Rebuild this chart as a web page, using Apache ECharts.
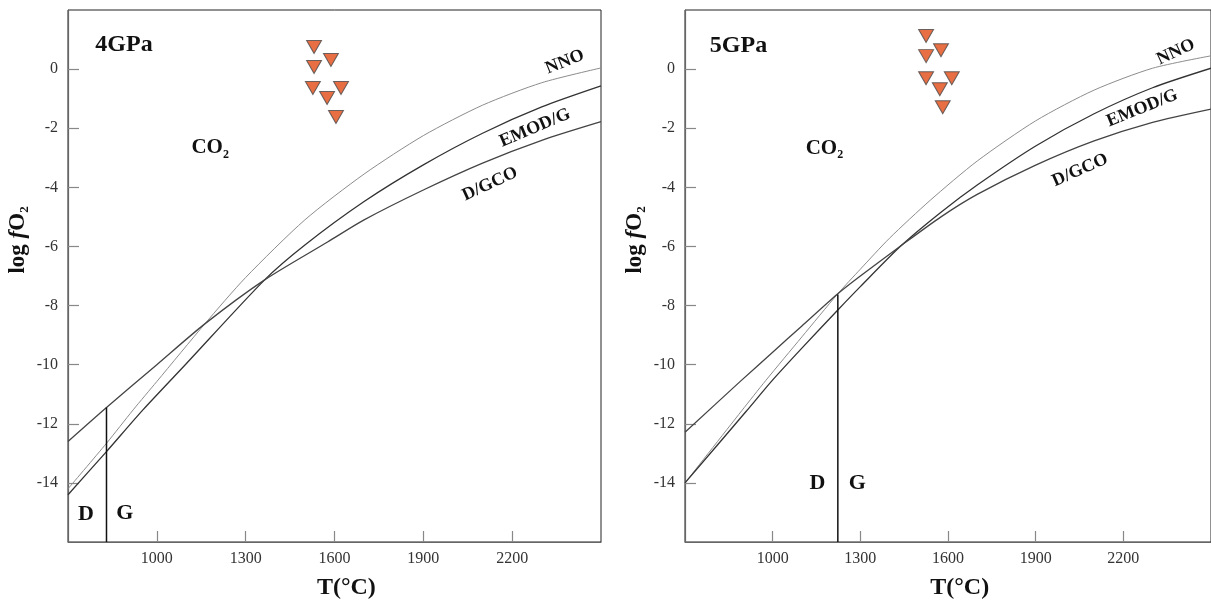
<!DOCTYPE html>
<html><head><meta charset="utf-8">
<script src="https://cdn.jsdelivr.net/npm/echarts@6/dist/echarts.min.js"></script>
<style>html,body{margin:0;padding:0;background:#fff}#c{width:1211px;height:601px}</style>
</head><body><div id="c"></div>
<script>
// ---------- data (T in °C, log fO2) ----------
const PANELS = ['4GPa', '5GPa'];
const NNO_4 = [[700,-14.2],[830,-12.66],[920,-11.53],[1000,-10.57],[1162,-8.62],[1300,-7.05],[1500,-5.1],[1700,-3.55],[1900,-2.25],[2100,-1.22],[2300,-0.46],[2500,0.04]];
const EMOD_4 = [[700,-14.4],[830,-12.94],[953,-11.53],[1100,-9.96],[1364,-7.13],[1500,-5.95],[1700,-4.48],[1900,-3.24],[2100,-2.17],[2300,-1.28],[2500,-0.57]];
const DGCO_4 = [[700,-12.6],[830,-11.45],[1000,-10.0],[1162,-8.62],[1364,-7.13],[1578,-5.84],[1700,-5.1],[1900,-4.09],[2100,-3.18],[2300,-2.41],[2500,-1.78]];
const DG_4 = [[830,-16],[830,-11.45]];
const SAMPLES_4 = [[1531,0.75],[1588,0.31],[1531,0.07],[1527,-0.64],[1622,-0.64],[1575,-0.98],[1605,-1.62]];

const NNO_5 = [[700,-14.0],[894,-11.56],[976,-10.54],[1100,-9.06],[1223,-7.6],[1300,-6.77],[1400,-5.72],[1539,-4.44],[1700,-3.11],[1900,-1.75],[2100,-0.71],[2300,0.03],[2500,0.45]];
const EMOD_5 = [[700,-14.0],[911,-11.56],[998,-10.54],[1100,-9.44],[1223,-8.15],[1300,-7.36],[1440,-5.97],[1576,-4.84],[1700,-3.92],[1900,-2.6],[2100,-1.51],[2300,-0.63],[2500,0.03]];
const DGCO_5 = [[700,-12.29],[892,-10.54],[1000,-9.58],[1100,-8.69],[1223,-7.6],[1300,-7.0],[1440,-5.97],[1576,-5.0],[1700,-4.24],[1900,-3.25],[2100,-2.43],[2300,-1.8],[2500,-1.35]];
const DG_5 = [[1223,-16],[1223,-7.63]];
const SAMPLES_5 = [[1525,1.12],[1576,0.64],[1525,0.44],[1525,-0.31],[1613,-0.31],[1572,-0.68],[1582,-1.29]];

const X_RANGE = [700, 2500];
const Y_RANGE = [-16, 2];

// ---------- styling / layout ----------
const SERIF = 'Liberation Serif, Times New Roman, serif';
const GRIDS = [
  {left: 68, top: 10, width: 533, height: 532},
  {left: 685, top: 10, width: 532, height: 532}
];

function xAx(gi){
  return {type:'value', gridIndex:gi, min:X_RANGE[0], max:X_RANGE[1], interval:300,
    axisLine:{onZero:false, lineStyle:{color:'#666', width:1.2}},
    axisTick:{inside:true, length:11, lineStyle:{color:'#888', width:1.2}},
    axisLabel:{showMinLabel:false, showMaxLabel:false, color:'#333', fontFamily:SERIF, fontSize:16, margin:9,
      formatter: v => String(v)},
    splitLine:{show:false}};
}
function yAx(gi){
  return {type:'value', gridIndex:gi, min:Y_RANGE[0], max:Y_RANGE[1], interval:2,
    axisLine:{onZero:false, lineStyle:{color:'#666', width:1.2}},
    axisTick:{inside:true, length:11, lineStyle:{color:'#888', width:1.2}},
    axisLabel:{showMinLabel:false, showMaxLabel:false, color:'#333', fontFamily:SERIF, fontSize:16, margin:10,
      formatter: v => String(v)},
    splitLine:{show:false}};
}
function curve(gi, data, color, width){
  return {type:'line', xAxisIndex:gi, yAxisIndex:gi, data:data, showSymbol:false, smooth:0.25,
    silent:true, lineStyle:{color:color, width:width}};
}
function pts(gi, data){
  return {type:'scatter', xAxisIndex:gi, yAxisIndex:gi, data:data, symbol:'triangle', symbolRotate:180,
    symbolSize:[15,13], silent:true, itemStyle:{color:'#E24A14', borderColor:'#4a4a4a', borderWidth:1}};
}

const sets = [
  {nno:NNO_4, emod:EMOD_4, dgco:DGCO_4, dg:DG_4, s:SAMPLES_4},
  {nno:NNO_5, emod:EMOD_5, dgco:DGCO_5, dg:DG_5, s:SAMPLES_5}
];
const series = [];
sets.forEach((d, gi) => {
  series.push(curve(gi, d.nno, '#8c8c8c', 1));
  series.push(curve(gi, d.emod, '#333', 1.3));
  series.push(curve(gi, d.dgco, '#444', 1.3));
  series.push({type:'line', xAxisIndex:gi, yAxisIndex:gi, data:d.dg, showSymbol:false, silent:true,
    lineStyle:{color:'#111', width:1.5}});
  series.push(pts(gi, d.s));
});

const chart = echarts.init(document.getElementById('c'), null, {renderer:'canvas'});
chart.setOption({
  animation:false,
  backgroundColor:'#fff',
  grid: GRIDS.map(g => Object.assign({show:true, borderColor:'#222', borderWidth:1}, g)),
  xAxis:[xAx(0), xAx(1)],
  yAxis:[yAx(0), yAx(1)],
  series: series
});

// ---------- annotations (anchored in data coordinates) ----------
const ANN = [
  [{t:'{b|4GPa}', T:889, v:0.82, r:0, fs:24},
   {t:'{b|CO}{s|2}', T:1180, v:-2.67, r:0, fs:21},
   {t:'{b|NNO}', T:2378, v:0.24, r:22, fs:18},
   {t:'{b|EMOD/G}', T:2277, v:-1.99, r:23, fs:18},
   {t:'{b|D/GCO}', T:2125, v:-3.89, r:25, fs:18},
   {t:'{b|D}', T:761, v:-15.08, r:0, fs:22},
   {t:'{b|G}', T:892, v:-15.02, r:0, fs:22}],
  [{t:'{b|5GPa}', T:883, v:0.78, r:0, fs:24},
   {t:'{b|CO}{s|2}', T:1177, v:-2.69, r:0, fs:21},
   {t:'{b|NNO}', T:2380, v:0.58, r:25, fs:18},
   {t:'{b|EMOD/G}', T:2265, v:-1.32, r:22, fs:18},
   {t:'{b|D/GCO}', T:2052, v:-3.42, r:24, fs:18},
   {t:'{b|D}', T:1153, v:-14.03, r:0, fs:22},
   {t:'{b|G}', T:1290, v:-14.03, r:0, fs:22}]
];
const graphic = [];
ANN.forEach((list, gi) => {
  list.forEach(a => {
    const p = chart.convertToPixel({gridIndex:gi}, [a.T, a.v]);
    graphic.push({type:'text', x:p[0], y:p[1], rotation:a.r*Math.PI/180, silent:true,
      style:{text:a.t, align:'center', verticalAlign:'middle', fill:'#111',
        rich:{b:{fontFamily:SERIF, fontWeight:'bold', fontSize:a.fs, lineHeight:a.fs+4, fill:'#111'},
              s:{fontFamily:SERIF, fontWeight:'bold', fontSize:12, lineHeight:8, verticalAlign:'bottom', fill:'#111'}}}});
  });
  // axis titles
  const g = GRIDS[gi];
  const py = chart.convertToPixel({gridIndex:gi}, [1000, -5.78])[1];
  graphic.push({type:'text', x:g.left - 50, y:py, rotation:Math.PI/2, silent:true,
    style:{text:'{b|log }{i|f}{b|O}{s|2}', align:'center', verticalAlign:'middle',
      rich:{b:{fontFamily:SERIF, fontWeight:'bold', fontSize:23, lineHeight:26, fill:'#111'},
            i:{fontFamily:SERIF, fontWeight:'bold', fontStyle:'italic', fontSize:23, lineHeight:26, fill:'#111'},
            s:{fontFamily:SERIF, fontWeight:'bold', fontSize:13, lineHeight:8, verticalAlign:'bottom', fill:'#111'}}}});
  const px = chart.convertToPixel({gridIndex:gi}, [1640, -16])[0];
  graphic.push({type:'text', x:px, y:g.top + g.height + 46, silent:true,
    style:{text:'T(°C)', align:'center', verticalAlign:'middle', fill:'#111',
      font:'bold 24px ' + SERIF}});
});
chart.setOption({graphic: graphic});
</script>
</body></html>
